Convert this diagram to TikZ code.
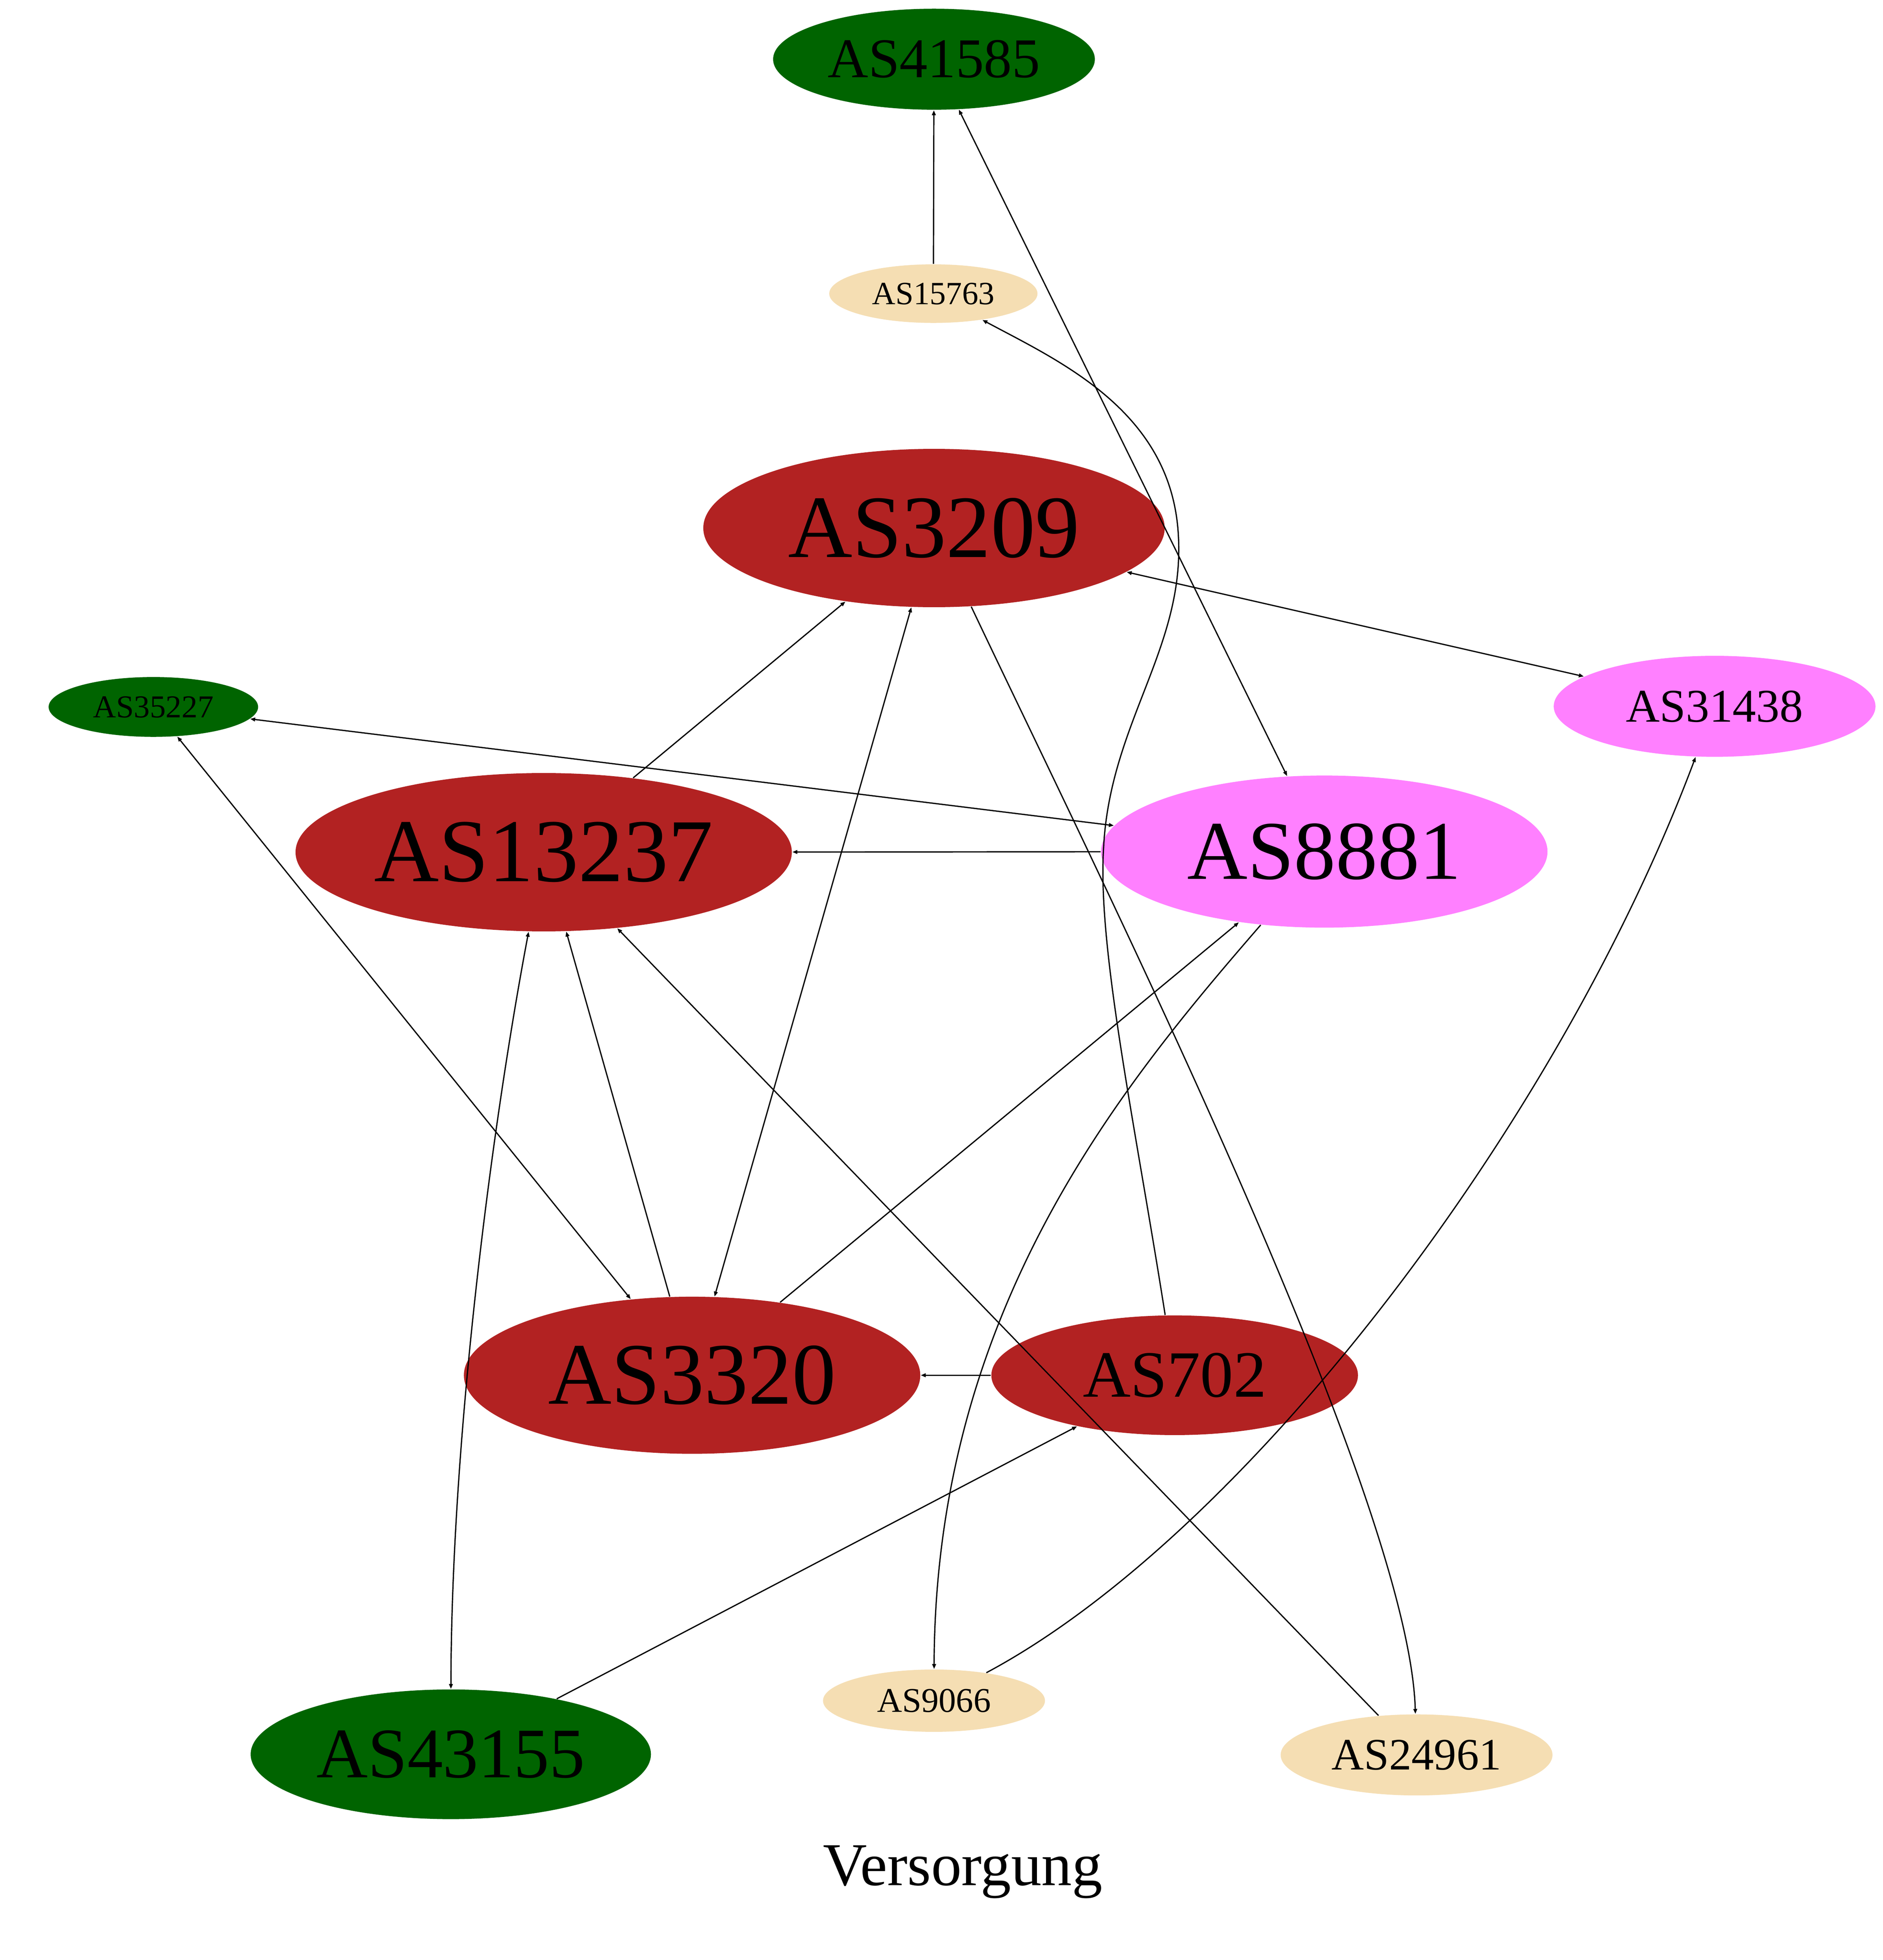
\documentclass[tikz,border=0pt]{standalone}
\usepackage{fontspec}
\setmainfont{Liberation Serif}
\usetikzlibrary{arrows.meta,shapes.geometric}
\definecolor{dg}{HTML}{006400}
\definecolor{fb}{HTML}{B22222}
\definecolor{wh}{HTML}{F5DEB3}
\definecolor{vi}{HTML}{FF80FF}
\newcommand\asnode[8]{%
  \node[blob, fill=#6, minimum width=#4pt, minimum height=#5pt] (#1) at (#2,#3) {};
  \node[lbl, font=\fontsize{#7}{#7}\selectfont] (#1l) at (#2,#3) {#8};}
\begin{document}
\begin{tikzpicture}[x=0.5pt,y=-0.5pt,
  blob/.style={ellipse, inner sep=0pt, draw=none},
  lbl/.style={inner sep=0pt, text=black},
  edge/.style={draw=black, line width=0.5pt, -{Triangle[length=2pt,width=1.5pt]}},
  both/.style={edge, {Triangle[length=2pt,width=1.5pt]}-{Triangle[length=2pt,width=1.5pt]}}]
\useasboundingbox (0,0) rectangle (1510,1572);
\fill[white] (0,0) rectangle (1510,1572);
\asnode{s41585}{749}{47.5}{129}{40.5}{dg}{22.5}{AS41585}
\asnode{s15763}{748.5}{235.5}{83.5}{23.5}{wh}{13}{AS15763}
\asnode{s3209}{749}{423.5}{185}{63.5}{fb}{35.7}{AS3209}
\asnode{s35227}{123}{567}{84}{24}{dg}{12.8}{AS35227}
\asnode{s31438}{1375}{566.5}{129}{40.5}{vi}{18.8}{AS31438}
\asnode{s13237}{436}{683.5}{199}{63.5}{fb}{36}{AS13237}
\asnode{s8881}{1062}{683}{179}{61}{vi}{33.5}{AS8881}
\asnode{s3320}{555}{1103}{183}{63}{fb}{35.2}{AS3320}
\asnode{s702}{942}{1103}{147}{48}{fb}{26.5}{AS702}
\asnode{s9066}{749}{1364}{89}{25}{wh}{13.9}{AS9066}
\asnode{s43155}{361.5}{1407}{160.5}{52}{dg}{28.5}{AS43155}
\asnode{s24961}{1136}{1407.5}{109}{32.5}{wh}{18}{AS24961}
\node[lbl, anchor=base, font=\fontsize{24.4}{24.4}\selectfont] (title) at (772,1512) {Versorgung};
% edges
\draw[edge] (s15763) -- (s41585);
\draw[both] (s41585) -- (s8881);
\draw[edge] (s702) .. controls (910,900) and (880,760) .. (885,680) .. controls (890,580) and (950,520) .. (945,430) .. controls (940,330) and (850,290) .. (s15763);
\draw[edge] (s13237) -- (s3209);
\draw[both] (s3320) -- (s3209);
\draw[edge] (s3209) .. controls (880,700) and (1130,1200) .. (s24961);
\draw[both] (s3209) -- (s31438);
\draw[both] (s35227) -- (s8881);
\draw[edge] (s8881) -- (s13237);
\draw[both] (s35227) -- (s3320);
\draw[edge] (s3320) -- (s13237);
\draw[both] (s43155) .. controls (362,1150) and (395,900) .. (s13237);
\draw[edge] (s24961) -- (s13237);
\draw[edge] (s3320) -- (s8881);
\draw[edge] (s8881) .. controls (900,870) and (750,1050) .. (s9066);
\draw[edge] (s702) -- (s3320);
\draw[edge] (s43155) -- (s702);
\draw[edge] (s9066) .. controls (1000,1230) and (1250,900) .. (s31438);
\end{tikzpicture}
\end{document}
